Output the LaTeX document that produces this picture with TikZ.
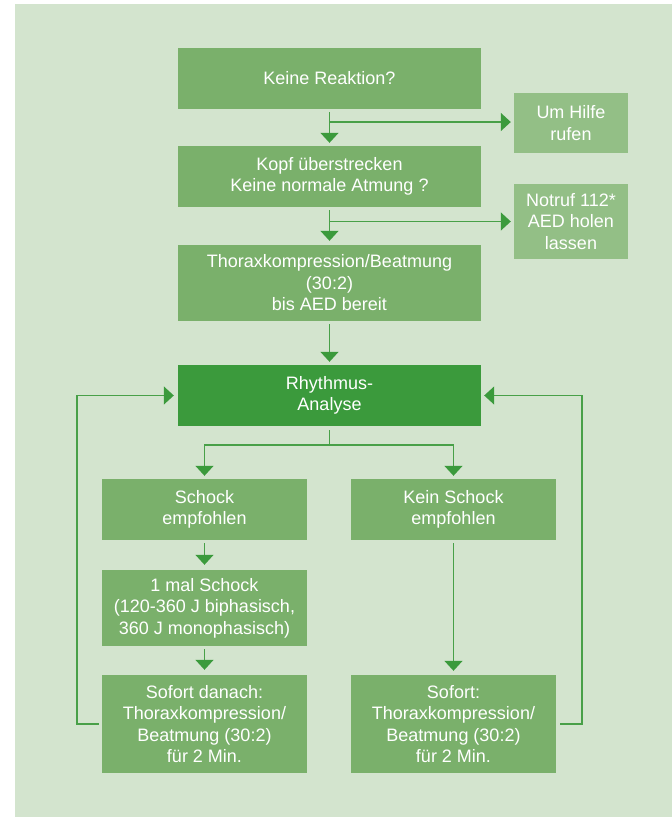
\documentclass[tikz,border=0pt]{standalone}
\usepackage{fontspec}
\setmainfont{Liberation Sans}
\usetikzlibrary{arrows.meta}
\definecolor{bgc}{RGB}{211,228,206}
\definecolor{boxc}{RGB}{122,176,107}
\definecolor{darkc}{RGB}{59,154,60}
\definecolor{sidec}{RGB}{147,191,134}
\definecolor{linec}{RGB}{72,160,72}
\definecolor{tipc}{RGB}{59,154,60}
\tikzset{
  box/.style={fill=boxc, text=white, inner sep=0pt, align=center,
    font=\fontsize{18}{21.5}\selectfont},
  darkbox/.style={box, fill=darkc},
  sidebox/.style={box, fill=sidec},
  conn/.style={draw=linec, line width=1.5pt},
  arr/.style={conn, -{Triangle[width=18pt,length=10pt,fill=tipc,color=tipc]}},
}
\begin{document}
\begin{tikzpicture}[x=1pt,y=-1pt]
\useasboundingbox (0,0) rectangle (672,817);
\fill[bgc] (15,4) rectangle (672,817);

\node[box, minimum width=303pt, minimum height=61pt] (reakt) at (329.5,78.5) {Keine Reaktion?};
\node[sidebox, minimum width=114pt, minimum height=60pt] (hilfe) at (571,123) {Um Hilfe\\rufen};
\node[box, minimum width=303pt, minimum height=61pt] (kopf) at (329.5,176.5) {Kopf überstrecken\\Keine normale Atmung ?};
\node[sidebox, minimum width=114pt, minimum height=75pt] (notruf) at (571,221.5) {Notruf 112*\\AED holen\\lassen};
\node[box, minimum width=303pt, minimum height=76pt] (thorax) at (329.5,283) {Thoraxkompression/Beatmung\\(30:2)\\bis AED bereit};
\node[darkbox, minimum width=303pt, minimum height=61pt] (rhyth) at (329.5,395.5) {Rhythmus-\\Analyse};
\node[box, minimum width=205pt, minimum height=61pt] (schock) at (204.5,509.5) {Schock\\empfohlen};
\node[box, minimum width=205pt, minimum height=61pt] (kein) at (453.5,509.5) {Kein Schock\\empfohlen};
\node[box, minimum width=205pt, minimum height=76pt] (mal) at (204.5,608) {1 mal Schock\\(120-360 J biphasisch,\\360 J monophasisch)};
\node[box, minimum width=205pt, minimum height=98pt] (sofd) at (204.5,724) {Sofort danach:\\Thoraxkompression/\\Beatmung (30:2)\\für 2 Min.};
\node[box, minimum width=205pt, minimum height=98pt] (sof) at (453.5,724) {Sofort:\\Thoraxkompression/\\Beatmung (30:2)\\für 2 Min.};

% top chain
\coordinate (b1) at (329.5,122);
\coordinate (b2) at (329.5,221.5);
\draw[arr, shorten <=3pt, shorten >=3pt] (reakt.south) -- (kopf.north);
\draw[arr, shorten >=3pt] (b1) -- (hilfe.west |- b1);
\draw[arr, shorten <=3pt, shorten >=4pt] (kopf.south) -- (thorax.north);
\draw[arr, shorten >=3pt] (b2) -- (notruf.west);
\draw[arr, shorten <=3pt, shorten >=3pt] (thorax.south) -- (rhyth.north);

% split
\coordinate (sp) at (329.5,445);
\draw[conn, shorten <=4pt] (rhyth.south) -- (sp);
\draw[arr, shorten >=3pt] (sp) -| (schock.north);
\draw[arr, shorten >=3pt] (sp) -| (kein.north);

\draw[arr, shorten <=3pt, shorten >=5pt] (schock.south) -- (mal.north);
\draw[arr, shorten <=3pt, shorten >=5pt] (mal.south) -- (sofd.north);
\draw[arr, shorten <=3pt, shorten >=4pt] (kein.south) -- (sof.north);

% loops
\coordinate (ll) at (77,724);
\coordinate (rl) at (582,724);
\draw[arr, shorten <=3pt, shorten >=4pt] (sofd.west) -- (ll) |- (rhyth.west);
\draw[arr, shorten <=4pt, shorten >=3pt] (sof.east) -- (rl) |- (rhyth.east);
\end{tikzpicture}
\end{document}
